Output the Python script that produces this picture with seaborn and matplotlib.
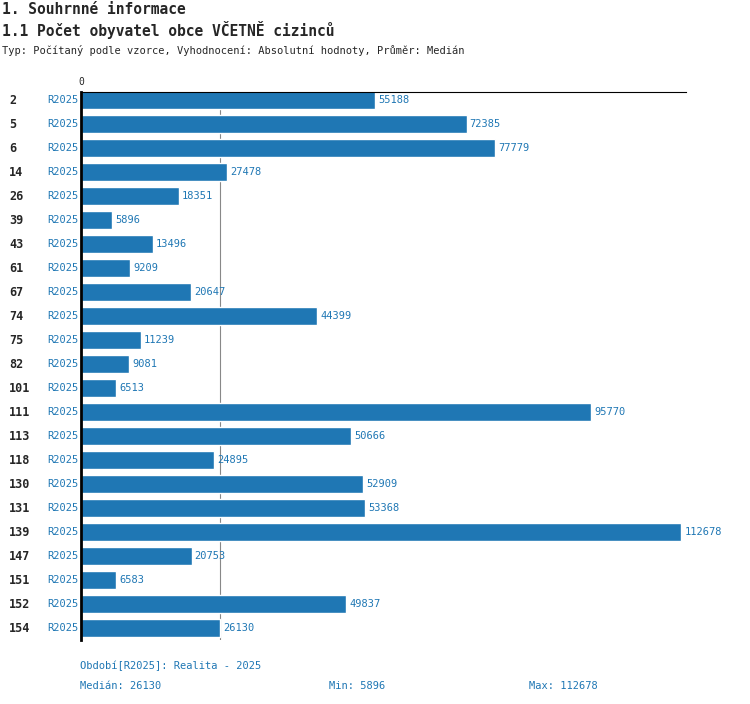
import matplotlib
matplotlib.use("Agg")
import matplotlib.pyplot as plt
import matplotlib.transforms as mtransforms
import seaborn as sns
import pandas as pd

categories = ['2', '5', '6', '14', '26', '39', '43', '61', '67', '74', '75', '82', '101',
              '111', '113', '118', '130', '131', '139', '147', '151', '152', '154']
values = [55188, 72385, 77779, 27478, 18351, 5896, 13496, 9209, 20647, 44399, 11239, 9081,
          6513, 95770, 50666, 24895, 52909, 53368, 112678, 20753, 6583, 49837, 26130]
period = 'R2025'
median = 26130

blue = '#1f77b4'
sns.set_style('white')
plt.rcParams['font.family'] = ['DejaVu Sans Mono']

df = pd.DataFrame({'cat': categories, 'val': values})
fig = plt.figure(figsize=(7.5, 7.04), dpi=100)
ax = fig.add_axes([81 / 750, 1 - 640 / 704, 605 / 750, 548 / 704])
sns.barplot(data=df, x='val', y='cat', color=blue, saturation=1, width=0.75, ax=ax, orient='h')
ax.set_xlim(0, 113600)
ax.set_ylim(22.5, -0.35)
ax.axvline(median, color='#888888', lw=0.8, zorder=0)
for s in ['right', 'bottom']:
    ax.spines[s].set_visible(False)
ax.spines['left'].set_linewidth(2)
ax.spines['left'].set_color('black')
ax.spines['top'].set_color('black')
ax.spines['top'].set_linewidth(0.8)
ax.set_xticks([])
ax.set_yticks([])
ax.set_xlabel('')
ax.set_ylabel('')
ax.text(0, -0.55, '0', ha='center', va='bottom', fontsize=7)

tr = mtransforms.blended_transform_factory(fig.transFigure, ax.transData)
for i, (c, v) in enumerate(zip(categories, values)):
    fig.text(9 / 750, i, c, transform=tr, fontsize=8.5, fontweight='bold', va='center')
    fig.text(78 / 750, i, period, transform=tr, fontsize=7.5, color=blue, va='center', ha='right')
    ax.text(v + 600, i, str(v), fontsize=7.5, color=blue, va='center')

fig.text(2 / 750, 1 - 9 / 704, '1. Souhrnné informace', fontsize=10.5, fontweight='bold', va='center')
fig.text(2 / 750, 1 - 30 / 704, '1.1 Počet obyvatel obce VČETNĚ cizinců', fontsize=10.5, fontweight='bold', va='center')
fig.text(2 / 750, 1 - 50 / 704, 'Typ: Počítaný podle vzorce, Vyhodnocení: Absolutní hodnoty, Průměr: Medián', fontsize=7.5, va='center')
fig.text(80 / 750, 1 - 666 / 704, 'Období[R2025]: Realita - 2025', fontsize=7.5, color=blue, va='center')
fig.text(80 / 750, 1 - 686 / 704, 'Medián: 26130', fontsize=7.5, color=blue, va='center')
fig.text(329 / 750, 1 - 686 / 704, 'Min: 5896', fontsize=7.5, color=blue, va='center')
fig.text(529 / 750, 1 - 686 / 704, 'Max: 112678', fontsize=7.5, color=blue, va='center')

fig.savefig('out.png', dpi=100)
